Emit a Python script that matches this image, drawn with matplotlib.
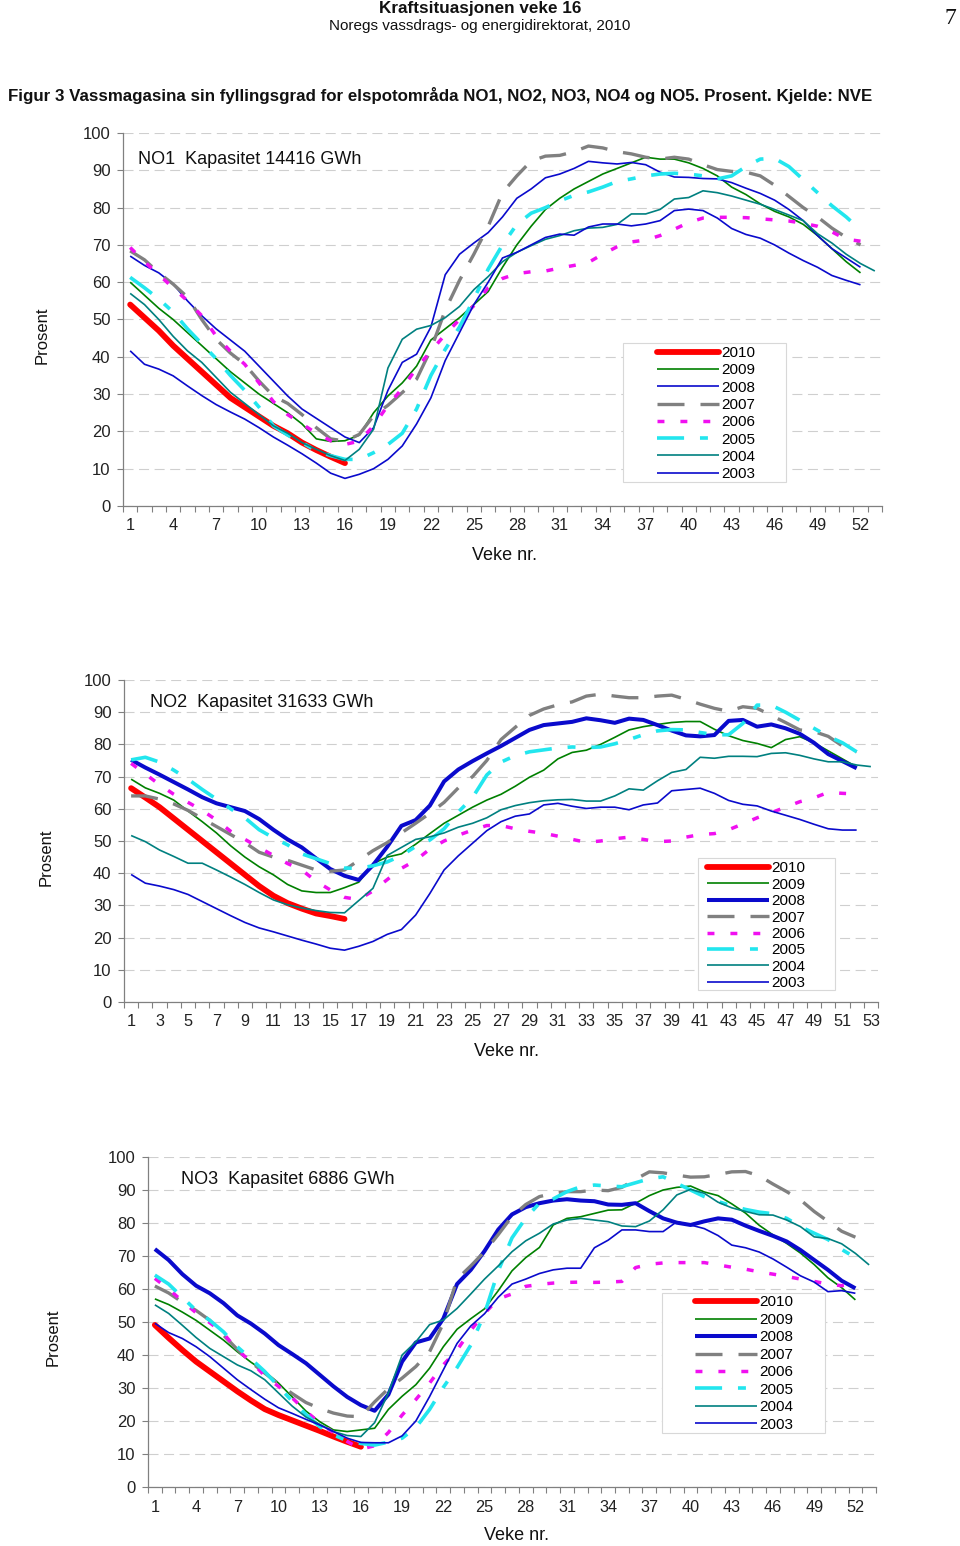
import matplotlib
matplotlib.use('Agg')
import matplotlib.pyplot as plt
import numpy as np
from matplotlib.patches import Rectangle

W, H, DPI = 960, 1546, 100

years = ['2010', '2009', '2008', '2007', '2006', '2005', '2004', '2003']

# ---------------- NO1 ----------------
no1_2010 = [54.0, 50.5, 47.0, 43.0, 39.5, 36.0, 32.5, 29.0, 26.5, 24.0, 21.5, 19.5, 17.0, 15.0, 13.2, 11.5]
no1_2009 = [60.0, 56.5, 53.0, 50.0, 46.5, 43.0, 39.5, 36.0, 33.0, 30.0, 27.5, 25.0, 22.0, 18.0, 17.3, 17.5, 19.0, 25.0, 29.5, 33.0,
            37.5, 44.5, 47.5, 50.5, 54.0, 57.5, 64.0, 70.0, 75.0, 79.5, 82.5, 85.0, 87.0, 89.0, 90.5, 92.0, 93.5, 93.0, 93.0, 92.0,
            90.5, 88.5, 85.5, 83.5, 81.0, 79.0, 77.5, 75.5, 72.5, 69.0, 65.5, 62.5]
no1_2008 = [67.0, 64.5, 62.5, 59.5, 55.0, 51.0, 47.5, 44.5, 41.5, 37.5, 33.5, 29.5, 26.0, 23.5, 21.0, 18.5, 17.0, 21.0, 31.0, 38.5,
            40.7, 48.0, 62.0, 67.5, 70.5, 73.3, 77.5, 82.5, 85.0, 88.0, 89.0, 90.5, 92.4, 92.0, 91.7, 92.1, 91.5, 89.5, 88.2, 88.1,
            87.8, 87.7, 86.7, 85.2, 83.8, 82.0, 79.5, 76.5, 72.5, 69.0, 66.5, 64.0]
no1_2007 = [68.4, 66.0, 62.5, 59.5, 56.0, 50.0, 44.7, 41.0, 38.0, 33.5, 29.5, 27.5, 24.5, 21.0, 18.0, 17.4, 19.2, 24.2, 27.0, 30.4,
            34.0, 42.0, 52.5, 60.5, 67.5, 75.0, 84.0, 88.5, 92.5, 93.8, 94.0, 95.0, 96.5, 96.0, 95.0, 94.4, 93.5, 93.0, 93.5, 93.0,
            91.5, 90.2, 89.7, 89.5, 88.5, 86.0, 83.0, 80.0, 77.5, 74.5, 72.0, 70.0]
no1_2006 = [69.3, 65.5, 62.0, 58.5, 55.0, 51.0, 45.6, 41.5, 38.0, 33.0, 28.0, 24.5, 22.0, 19.5, 17.5, 16.5, 17.4, 21.5, 27.0, 31.5,
            37.0, 41.5, 46.0, 50.0, 53.7, 58.5, 61.0, 62.3, 62.8, 63.0, 63.8, 64.5, 65.3, 67.5, 69.5, 70.8, 71.3, 72.5, 74.2, 76.0,
            77.2, 77.4, 77.4, 77.3, 77.0, 76.7, 76.4, 75.8, 75.0, 73.5, 71.5, 71.0]
no1_2005 = [61.3, 58.5, 55.5, 52.0, 47.5, 43.5, 39.5, 35.0, 31.0, 26.5, 21.5, 19.0, 17.0, 14.8, 13.5, 12.5, 12.5, 14.3, 16.5, 19.5,
            26.0, 35.0, 42.0, 48.0, 55.5, 63.5, 70.0, 75.5, 78.5, 80.0, 81.8, 83.3, 84.2, 85.5, 87.0, 87.7, 88.5, 89.0, 89.2, 89.0,
            88.5, 87.7, 88.5, 91.0, 93.0, 93.2, 91.0, 87.5, 84.0, 80.5, 77.5, 74.0]
no1_2004 = [57.0, 54.0, 50.0, 45.5, 41.6, 38.5, 34.5, 30.5, 27.5, 24.5, 21.5, 19.5, 17.0, 15.2, 13.5, 12.2, 15.2, 20.6, 37.0, 44.7,
            47.4, 48.4, 50.5, 53.5, 58.0, 61.5, 65.5, 68.0, 69.8, 71.5, 72.5, 73.8, 74.5, 74.7, 75.5, 78.3, 78.3, 79.5, 82.3, 82.7,
            84.5, 84.0, 83.1, 82.0, 80.9, 79.5, 78.0, 76.5, 73.0, 70.5, 67.5, 65.0, 63.0]
no1_2003 = [41.6, 38.0, 36.7, 34.9, 32.2, 29.6, 27.2, 25.2, 23.3, 21.0, 18.5, 16.3, 14.0, 11.5, 8.8, 7.4, 8.5, 10.0, 12.5, 16.1,
            22.0, 29.0, 39.0, 46.5, 54.0, 60.0, 66.5, 68.0, 70.0, 72.0, 72.9, 72.6, 74.8, 75.6, 75.6, 75.1, 75.6, 76.5, 79.2, 79.6,
            79.2, 77.2, 74.4, 72.8, 71.8, 70.0, 67.8, 65.8, 64.0, 61.8, 60.5, 59.3]

# ---------------- NO2 ----------------
no2_2010 = [66.4, 63.5, 60.5, 57.0, 53.5, 50.0, 46.5, 43.0, 39.5, 36.0, 33.0, 30.7, 29.0, 27.5, 26.7, 25.8]
no2_2009 = [69.2, 66.5, 64.8, 62.7, 59.3, 56.0, 52.5, 48.5, 45.0, 42.0, 39.5, 36.5, 34.5, 34.0, 34.0, 35.5, 37.2, 43.0, 45.0, 46.0,
            49.0, 52.3, 55.5, 58.0, 60.5, 62.7, 64.5, 67.0, 69.8, 72.0, 75.5, 77.5, 78.2, 80.0, 82.2, 84.5, 85.5, 86.2, 86.8, 87.1,
            87.1, 84.7, 82.7, 81.2, 80.3, 79.0, 81.5, 82.4, 80.5, 78.0, 75.5, 73.0]
no2_2008 = [75.2, 72.8, 70.6, 68.3, 66.0, 63.6, 61.7, 60.5, 59.3, 56.8, 53.5, 50.5, 48.0, 44.6, 41.3, 39.2, 37.9, 42.5, 48.2, 54.7,
            56.5, 61.0, 68.5, 72.2, 74.8, 77.2, 79.5, 82.0, 84.5, 86.0, 86.5, 87.0, 88.1, 87.5, 86.7, 88.0, 87.6, 86.0, 84.3, 82.8,
            82.5, 82.9, 87.3, 87.6, 85.5, 86.2, 85.0, 83.3, 80.5, 77.0, 74.8, 72.6]
no2_2007 = [64.0, 64.0, 63.0, 61.5, 59.5, 57.0, 54.5, 52.0, 49.5, 46.5, 45.0, 44.0, 42.5, 41.0, 40.6, 41.0, 44.0, 47.0, 49.5, 52.5,
            55.5, 58.6, 62.0, 66.5, 70.0, 75.0, 81.5, 85.3, 89.0, 91.0, 92.3, 93.2, 95.0, 95.6, 95.0, 94.5, 94.5, 95.0, 95.3, 94.0,
            92.5, 91.2, 90.3, 91.7, 91.2, 89.0, 86.8, 84.5, 84.0, 82.5, 79.5, 77.7]
no2_2006 = [74.1, 70.8, 67.5, 64.5, 62.0, 59.5, 56.5, 53.0, 50.5, 48.0, 45.5, 43.0, 41.0, 37.5, 34.8, 32.5, 31.8, 34.5, 38.0, 41.5,
            44.0, 47.5, 50.0, 51.8, 53.4, 54.8, 54.8, 53.8, 53.0, 52.4, 51.5, 50.5, 49.6, 50.0, 50.7, 51.2, 50.5, 49.8, 50.0, 51.2,
            52.0, 52.3, 53.5, 55.3, 57.2, 58.8, 60.5, 62.2, 63.4, 65.1, 64.8, 64.6]
no2_2005 = [75.2, 76.0, 74.5, 72.0, 69.2, 66.0, 63.0, 60.0, 57.2, 53.5, 51.0, 48.8, 46.0, 44.5, 43.0, 41.6, 41.5, 42.3, 43.5, 45.5,
            48.3, 50.3, 53.8, 59.0, 63.5, 70.5, 74.5, 76.5, 77.7, 78.3, 78.9, 79.2, 79.0, 79.2, 80.2, 81.5, 83.0, 84.2, 84.6, 84.5,
            83.7, 83.0, 83.0, 86.5, 92.2, 92.2, 90.0, 87.5, 85.0, 82.5, 80.5, 77.7]
no2_2004 = [51.7, 49.8, 47.2, 45.2, 43.1, 43.1, 41.0, 38.8, 36.5, 34.0, 31.7, 30.2, 29.2, 28.4, 27.8, 27.7, 31.5, 35.3, 45.5, 48.0,
            50.5, 51.3, 52.5, 54.3, 55.5, 57.2, 59.7, 61.0, 61.9, 62.5, 62.8, 62.9, 62.4, 62.4, 64.0, 66.2, 65.8, 68.7, 71.3, 72.2,
            76.0, 75.7, 76.3, 76.3, 76.2, 77.2, 77.4, 76.6, 75.5, 74.6, 74.6, 73.6, 73.1]
no2_2003 = [39.6, 36.9, 36.0, 34.9, 33.4, 31.2, 29.0, 26.8, 24.7, 23.0, 21.8, 20.5, 19.2, 18.0, 16.7, 16.1, 17.3, 18.8, 21.0, 22.5,
            27.0, 33.7, 41.0, 45.4, 49.3, 53.2, 56.0, 57.7, 58.4, 61.2, 61.7, 60.8, 60.1, 60.5, 60.5, 59.7, 61.2, 61.8, 65.6, 66.0,
            66.4, 64.8, 62.6, 61.4, 60.9, 59.3, 58.0, 56.7, 55.2, 53.8, 53.4, 53.4]

# ---------------- NO3 ----------------
no3_2010 = [49.1, 45.2, 41.5, 38.0, 35.0, 32.0, 29.0, 26.2, 23.6, 21.8, 20.2, 18.6, 17.0, 15.3, 13.7, 12.2]
no3_2009 = [57.0, 55.3, 53.0, 50.5, 47.5, 44.5, 41.0, 37.8, 35.0, 31.5, 27.3, 23.0, 19.8, 17.3, 16.8, 17.3, 17.8, 23.5, 27.5, 31.0,
            36.0, 42.5, 47.8, 51.0, 54.0, 59.5, 65.5, 69.5, 72.6, 79.4, 81.4, 81.9, 82.9, 83.9, 84.0, 86.0, 88.3, 90.0, 90.8, 91.2,
            89.4, 88.3, 85.8, 83.0, 79.3, 76.4, 73.8, 70.9, 67.4, 63.4, 60.4, 56.7]
no3_2008 = [72.1, 68.8, 64.5, 61.0, 58.7, 55.7, 52.0, 49.5, 46.5, 43.0, 40.3, 37.5, 34.0, 30.5, 27.3, 24.8, 23.1, 28.0, 38.0, 43.8,
            45.0, 51.0, 61.5, 65.8, 71.5, 78.0, 82.6, 84.8, 86.0, 86.8, 87.2, 86.8, 86.6, 85.6, 85.5, 86.0, 83.6, 81.4, 80.1, 79.4,
            80.5, 81.4, 81.0, 79.2, 77.6, 76.1, 74.4, 71.8, 68.8, 65.8, 62.5, 60.2]
no3_2007 = [60.9, 58.8, 56.0, 53.5, 50.5, 46.0, 41.7, 37.8, 34.5, 31.3, 28.3, 25.6, 23.8, 22.4, 21.5, 21.3, 25.8, 29.8, 33.0, 36.5,
            41.0, 49.6, 63.0, 67.0, 71.3, 76.5, 82.0, 85.6, 88.0, 89.0, 89.5, 89.5, 90.0, 89.8, 90.8, 93.3, 95.5, 95.2, 94.5, 93.9,
            94.0, 94.7, 95.5, 95.6, 94.3, 91.8, 89.5, 87.0, 83.5, 80.5, 77.5, 75.7]
no3_2006 = [63.2, 60.0, 56.3, 52.8, 49.8, 46.5, 41.5, 38.0, 33.7, 30.5, 27.0, 23.0, 19.3, 16.5, 13.8, 11.5, 12.5, 16.5, 21.8, 26.5,
            31.5, 37.0, 41.5, 47.5, 52.6, 57.0, 58.5, 60.8, 61.4, 61.8, 62.0, 62.1, 62.0, 62.1, 62.3, 66.5, 67.5, 67.9, 68.0, 68.0,
            68.0, 67.3, 66.6, 66.0, 65.2, 64.5, 63.8, 63.0, 62.3, 61.5, 61.0, 61.7]
no3_2005 = [64.2, 61.5, 57.5, 53.5, 50.5, 47.0, 42.5, 38.8, 35.0, 30.5, 26.0, 22.0, 18.3, 15.8, 14.0, 13.2, 12.7, 13.6, 14.8, 18.0,
            23.5, 30.2, 36.2, 43.0, 52.5, 65.5, 75.5, 81.5, 86.0, 87.3, 89.5, 91.0, 91.5, 91.2, 91.0, 92.2, 93.4, 94.0, 92.0, 90.0,
            88.0, 86.5, 85.2, 84.1, 83.3, 82.8, 81.4, 78.9, 76.9, 75.0, 72.0, 69.5]
no3_2004 = [55.2, 52.6, 49.0, 45.3, 42.0, 39.5, 37.0, 35.2, 32.5, 28.5, 24.5, 21.2, 19.0, 16.8, 15.6, 15.3, 19.5, 28.5, 40.0, 44.0,
            49.2, 50.6, 54.1, 58.5, 63.0, 67.0, 71.3, 74.6, 76.9, 79.7, 80.9, 81.4, 80.9, 80.4, 79.1, 78.9, 80.6, 84.0, 88.5, 90.2,
            89.0, 86.3, 84.6, 83.5, 82.5, 82.4, 80.9, 78.9, 75.8, 75.3, 73.7, 70.8, 67.3]
no3_2003 = [49.6, 46.8, 45.0, 42.5, 39.5, 36.0, 32.5, 29.5, 26.6, 24.0, 22.3, 20.5, 18.8, 16.8, 14.8, 13.5, 13.4, 13.4, 15.5, 20.0,
            27.4, 35.5, 43.5, 48.8, 52.5, 57.5, 61.5, 63.0, 64.7, 65.8, 66.3, 66.3, 72.5, 74.8, 77.9, 77.9, 77.4, 77.4, 80.4, 79.4,
            78.3, 76.2, 73.3, 72.5, 71.2, 69.1, 66.6, 64.0, 62.1, 59.2, 59.5, 58.7]

no1 = [no1_2010, no1_2009, no1_2008, no1_2007, no1_2006, no1_2005, no1_2004, no1_2003]
no2 = [no2_2010, no2_2009, no2_2008, no2_2007, no2_2006, no2_2005, no2_2004, no2_2003]
no3 = [no3_2010, no3_2009, no3_2008, no3_2007, no3_2006, no3_2005, no3_2004, no3_2003]

titles = ['NO1  Kapasitet 14416 GWh', 'NO2  Kapasitet 31633 GWh', 'NO3  Kapasitet 6886 GWh']

plt.rcParams['font.family'] = ['Liberation Sans', 'DejaVu Sans']

fig = plt.figure(figsize=(W / DPI, H / DPI), dpi=DPI)
fig.patch.set_facecolor('white')


def fx(px):
    return px / W


def fy(py):
    return 1 - py / H


BLUE = '#0A0ACC'


def style(year, thick08):
    if year == '2010':
        return dict(color='#FF0000', lw=4.2, ls='-', solid_capstyle='round')
    if year == '2009':
        return dict(color='#008000', lw=1.2, ls='-')
    if year == '2008':
        return dict(color=BLUE, lw=(2.9 if thick08 else 1.2), ls='-')
    if year == '2007':
        return dict(color='#808080', lw=2.4, ls=(0, (8.1, 4.8)))
    if year == '2006':
        return dict(color='#F010F0', lw=2.5, ls=(0, (2.0, 4.6)))
    if year == '2005':
        return dict(color='#22E6EE', lw=2.6, ls=(0, (7.5, 4.4, 2.2, 4.4)))
    if year == '2004':
        return dict(color='#008080', lw=1.2, ls='-')
    return dict(color=BLUE, lw=1.2, ls='-')


panels = [
    dict(data=no1, l=123, r=882, t=133, b=506, step=3, thick=False, title=(138, 159), ylab=(42, 335),
         xlab=(505, 556), frame=(623, 343, 786, 482), hx=657, hy=346, lsp=0.216),
    dict(data=no2, l=124, r=878, t=680, b=1002, step=2, thick=True, title=(150, 702), ylab=(46, 857),
         xlab=(507, 1052), frame=(698, 858, 835, 990), hx=707, hy=861.5, lsp=0.153),
    dict(data=no3, l=148, r=876, t=1157, b=1487, step=3, thick=True, title=(181, 1180), ylab=(53, 1337),
         xlab=(516, 1536), frame=(662, 1293, 825, 1433), hx=695, hy=1295.5, lsp=0.226),
]

for i, p in enumerate(panels):
    ax = fig.add_axes([fx(p['l']), fy(p['b']), (p['r'] - p['l']) / W, (p['b'] - p['t']) / H])
    ax.set_xlim(0.5, 53.5)
    ax.set_ylim(0, 100)
    handles = {}
    for k, (yr, vals) in enumerate(zip(years, p['data'])):
        x = np.arange(1, len(vals) + 1)
        st = style(yr, p['thick'])
        ln, = ax.plot(x, vals, color=st['color'], lw=st['lw'], linestyle=st['ls'],
                      solid_capstyle=st.get('solid_capstyle', 'butt'), dash_capstyle='butt', label=yr,
                      zorder=3 + k * 0.01)
        handles[yr] = ln
    ax.set_yticks(np.arange(0, 101, 10))
    ax.yaxis.grid(True, linestyle=(0, (9, 5)), color='#CFCFCF', lw=0.8, zorder=0)
    ax.set_axisbelow(True)
    ax.set_xticks(np.arange(1, 54, p['step']))
    ax.set_xticks(np.arange(0.5, 54, 1), minor=True)
    ax.tick_params(axis='x', which='major', length=0, pad=9, labelsize=11.7, colors='#222222')
    ax.tick_params(axis='x', which='minor', length=4, width=0.8, color='#808080', direction='out')
    ax.tick_params(axis='y', which='major', length=4, width=0.8, color='#808080', pad=5, labelsize=12,
                   labelcolor='#222222')
    for s in ['top', 'right']:
        ax.spines[s].set_visible(False)
    for s in ['left', 'bottom']:
        ax.spines[s].set_color('#808080')
        ax.spines[s].set_linewidth(0.9)
    fig.text(fx(p['title'][0]), fy(p['title'][1]), titles[i], fontsize=13, ha='left', va='center', color='#111111')
    fig.text(fx(p['ylab'][0]), fy(p['ylab'][1]), 'Prosent', fontsize=12, rotation=90, ha='center', va='center',
             color='#111111')
    fig.text(fx(p['xlab'][0]), fy(p['xlab'][1]), 'Veke nr.', fontsize=13, ha='center', va='center', color='#111111')
    # legend frame (drawn inside the axes artist list, below the legend)
    x0, y0, x1, y1 = p['frame']
    ax.add_patch(Rectangle((fx(x0), fy(y1)), (x1 - x0) / W, (y1 - y0) / H, transform=fig.transFigure,
                           facecolor='white', edgecolor='#D8D8D8', lw=0.8, zorder=4, clip_on=False))
    leg = ax.legend([handles[y] for y in years], years, loc='upper left',
                    bbox_to_anchor=(fx(p['hx']), fy(p['hy'])), bbox_transform=fig.transFigure,
                    frameon=False, borderpad=0, borderaxespad=0, fontsize=11, handlelength=4.05,
                    handletextpad=0.18, labelspacing=p['lsp'])
    leg.set_zorder(6)

# header
hdr = ['Liberation Sans Narrow', 'Liberation Sans', 'DejaVu Sans']
fig.text(0.5, fy(8), 'Kraftsituasjonen veke 16', fontsize=12.3, fontweight='bold', ha='center', va='center',
         family=hdr, color='#111111')
fig.text(0.5, fy(26), 'Noregs vassdrags- og energidirektorat, 2010', fontsize=11, ha='center', va='center',
         family=hdr, color='#111111')
fig.text(fx(950), fy(18), '7', fontsize=17, ha='center', va='center', family=['Liberation Serif', 'DejaVu Serif'],
         color='#111111')
fig.text(fx(8), fy(96), 'Figur 3 Vassmagasina sin fyllingsgrad for elspotområda NO1, NO2, NO3, NO4 og NO5. '
         'Prosent. Kjelde: NVE', fontsize=12.15, fontweight='bold', ha='left', va='center', family=hdr,
         color='#111111')

fig.savefig('out.png', dpi=DPI, facecolor='white')
